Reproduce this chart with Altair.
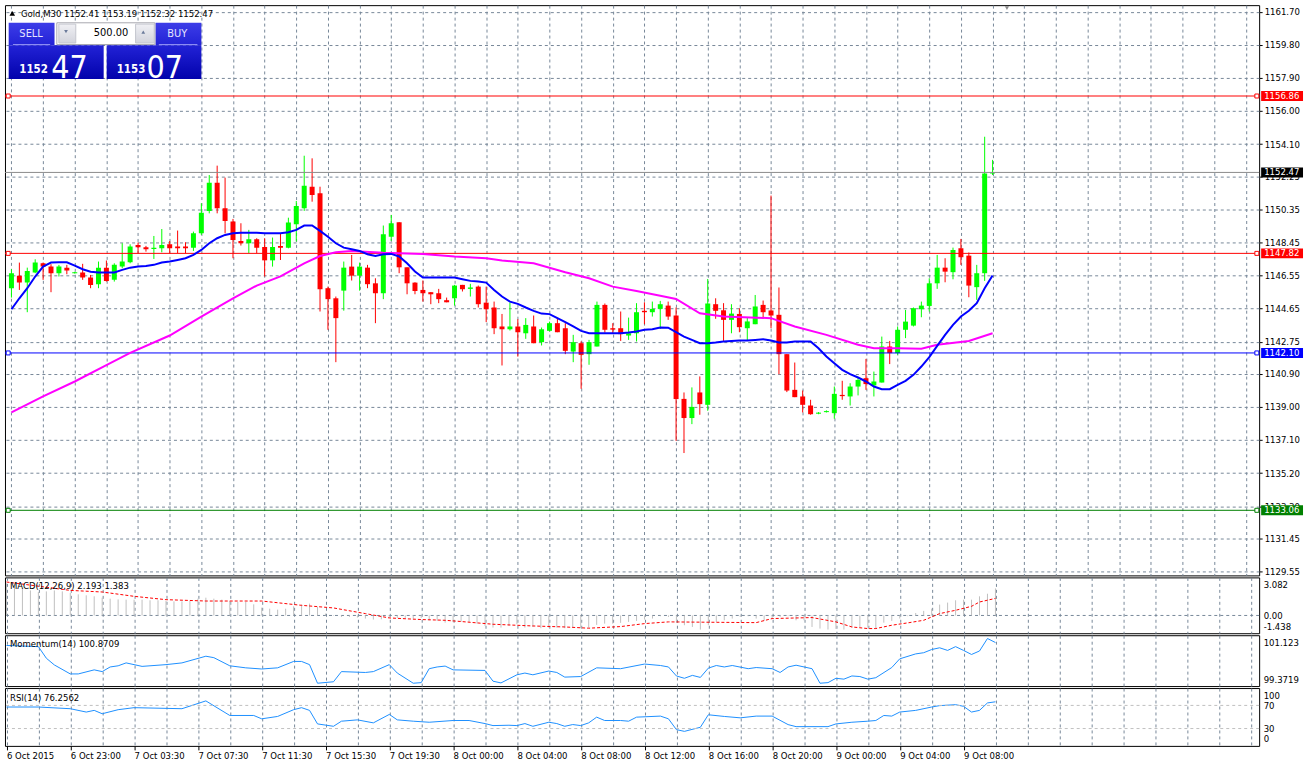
import altair as alt
import pandas as pd

# ---------------- data (Gold, M30) ----------------
opens = [1145.82, 1146.53, 1146.14, 1146.72, 1147.25, 1147.06, 1146.68, 1147.00, 1146.68, 1146.72,
         1146.43, 1146.05, 1147.00, 1146.30, 1147.06, 1147.31, 1148.30, 1148.17, 1148.07, 1148.11,
         1148.34, 1148.21, 1148.21, 1148.15, 1148.97, 1150.26, 1151.88, 1150.41, 1149.65, 1148.53,
         1148.40, 1148.63, 1148.19, 1147.42, 1148.25, 1148.15, 1149.49, 1150.41, 1151.65, 1151.27,
         1145.82, 1145.24, 1145.68, 1147.06, 1146.54, 1147.00, 1146.10, 1145.53, 1148.78, 1149.61,
         1147.02, 1146.14, 1145.72, 1145.59, 1145.53, 1145.13, 1145.24, 1146.01, 1145.78, 1145.91,
         1144.99, 1144.71, 1143.62, 1143.46, 1143.62, 1143.23, 1143.62, 1142.72, 1143.37, 1143.81,
         1143.52, 1142.18, 1142.66, 1142.03, 1142.47, 1144.86, 1143.52, 1143.52, 1143.10, 1143.23,
         1144.52, 1144.44, 1144.63, 1144.82, 1144.25, 1139.46, 1138.36, 1139.83, 1139.12, 1144.90,
         1144.55, 1144.00, 1144.34, 1143.52, 1143.75, 1144.86, 1144.54, 1144.29, 1142.03, 1139.98,
         1139.60, 1139.08, 1138.61, 1138.70, 1138.64, 1139.69, 1139.60, 1140.17, 1140.65, 1140.23,
         1140.40, 1142.47, 1142.09, 1143.43, 1143.67, 1144.61, 1144.80, 1146.10, 1147.00, 1146.74,
         1148.11, 1147.69, 1145.88, 1146.68, 1152.41]
highs = [1146.91, 1147.29, 1147.00, 1147.48, 1147.29, 1147.20, 1147.16, 1147.16, 1146.76, 1147.22,
         1146.58, 1147.35, 1147.41, 1147.25, 1148.40, 1148.34, 1148.44, 1148.25, 1148.82, 1149.22,
         1148.53, 1149.13, 1148.46, 1149.07, 1150.70, 1152.32, 1152.86, 1152.17, 1149.80, 1149.55,
         1149.17, 1148.69, 1148.69, 1148.73, 1148.97, 1149.87, 1150.83, 1153.43, 1153.28, 1151.65,
         1145.91, 1145.34, 1147.35, 1147.73, 1147.29, 1147.16, 1146.39, 1149.42, 1150.03, 1149.61,
         1147.02, 1146.16, 1146.26, 1145.59, 1145.78, 1145.28, 1146.01, 1146.01, 1146.07, 1145.97,
         1145.91, 1145.05, 1144.34, 1144.99, 1144.04, 1144.10, 1144.25, 1143.56, 1143.90, 1144.10,
         1143.81, 1143.14, 1142.76, 1142.85, 1145.05, 1144.94, 1143.81, 1144.48, 1144.13, 1144.96,
         1145.01, 1145.05, 1145.09, 1145.05, 1144.71, 1139.83, 1140.12, 1140.75, 1146.35, 1145.24,
         1144.96, 1144.90, 1144.67, 1144.13, 1145.43, 1145.11, 1151.14, 1145.86, 1142.03, 1141.55,
         1139.94, 1139.41, 1138.70, 1138.80, 1140.17, 1140.50, 1140.36, 1140.69, 1141.76, 1141.03,
         1143.04, 1142.79, 1143.62, 1144.57, 1144.71, 1145.05, 1146.39, 1147.73, 1147.54, 1148.15,
         1148.65, 1147.87, 1147.16, 1154.52, 1153.19]
lows = [1145.28, 1145.72, 1144.44, 1146.68, 1146.30, 1145.59, 1146.49, 1146.62, 1146.66, 1146.30,
        1145.82, 1145.82, 1146.20, 1146.20, 1146.97, 1147.25, 1147.83, 1147.92, 1147.50, 1147.88,
        1147.83, 1147.83, 1147.83, 1147.96, 1148.88, 1150.12, 1150.12, 1148.97, 1147.54, 1148.27,
        1147.83, 1147.83, 1146.49, 1147.06, 1147.44, 1148.11, 1148.50, 1150.26, 1150.79, 1144.48,
        1143.43, 1141.57, 1144.53, 1146.26, 1145.68, 1145.82, 1143.81, 1145.19, 1148.54, 1146.68,
        1145.47, 1145.47, 1145.05, 1144.90, 1144.96, 1145.01, 1144.82, 1145.63, 1145.34, 1144.71,
        1143.87, 1143.18, 1141.38, 1143.39, 1141.89, 1142.91, 1142.66, 1142.53, 1143.33, 1143.29,
        1142.03, 1141.57, 1140.04, 1141.42, 1142.47, 1143.27, 1143.23, 1142.79, 1142.85, 1142.76,
        1143.75, 1144.19, 1143.48, 1144.00, 1137.05, 1136.35, 1138.01, 1138.55, 1138.78, 1144.06,
        1142.79, 1143.23, 1143.29, 1142.79, 1143.75, 1144.06, 1143.52, 1140.88, 1139.85, 1139.56,
        1138.68, 1138.55, 1138.58, 1138.68, 1138.32, 1139.41, 1139.08, 1139.66, 1139.98, 1139.60,
        1140.40, 1141.46, 1141.99, 1142.95, 1143.62, 1144.15, 1144.48, 1145.78, 1146.16, 1146.33,
        1147.16, 1145.30, 1145.15, 1146.24, 1152.32]
closes = [1146.68, 1146.14, 1146.81, 1147.29, 1147.06, 1146.68, 1147.06, 1146.83, 1146.74, 1146.43,
          1146.01, 1147.00, 1146.24, 1147.16, 1147.35, 1148.21, 1148.17, 1148.06, 1148.15, 1148.30,
          1148.11, 1148.11, 1148.11, 1148.97, 1150.16, 1151.88, 1150.41, 1149.68, 1148.59, 1148.40,
          1148.63, 1148.15, 1147.42, 1148.19, 1148.15, 1149.59, 1150.54, 1151.71, 1151.17, 1145.76,
          1145.19, 1144.10, 1147.00, 1146.54, 1147.06, 1146.05, 1145.53, 1148.92, 1149.55, 1147.02,
          1146.10, 1145.66, 1145.53, 1145.47, 1145.19, 1145.01, 1145.97, 1145.76, 1145.86, 1144.90,
          1144.61, 1143.52, 1143.46, 1143.62, 1143.29, 1143.71, 1142.66, 1143.46, 1143.81, 1143.29,
          1142.22, 1142.72, 1141.99, 1142.72, 1144.86, 1143.43, 1143.44, 1143.18, 1143.23, 1144.44,
          1144.44, 1144.63, 1144.90, 1144.19, 1139.45, 1138.36, 1139.00, 1139.16, 1144.94, 1144.52,
          1144.00, 1144.36, 1143.58, 1143.91, 1144.77, 1144.44, 1144.25, 1142.03, 1139.94, 1139.56,
          1139.12, 1138.58, 1138.67, 1138.76, 1139.75, 1139.62, 1140.17, 1140.55, 1140.31, 1140.46,
          1142.47, 1142.09, 1143.43, 1143.90, 1144.67, 1144.82, 1146.10, 1147.00, 1146.77, 1148.02,
          1147.60, 1145.97, 1146.68, 1152.41, 1152.47]

ma_fast = [1144.61, 1145.24, 1145.82, 1146.49, 1147.06, 1147.29, 1147.31, 1147.31, 1147.12, 1146.91,
           1146.77, 1146.72, 1146.72, 1146.72, 1146.87, 1147.00, 1147.06, 1147.10, 1147.16, 1147.29,
           1147.35, 1147.44, 1147.54, 1147.73, 1148.02, 1148.40, 1148.69, 1148.88, 1148.97, 1149.01,
           1149.01, 1149.01, 1148.97, 1148.97, 1148.97, 1149.03, 1149.17, 1149.42, 1149.42, 1149.11,
           1148.78, 1148.40, 1148.15, 1148.06, 1147.96, 1147.77, 1147.67, 1147.77, 1147.79, 1147.64,
           1147.25, 1146.78, 1146.43, 1146.43, 1146.43, 1146.43, 1146.43, 1146.33, 1146.24, 1146.20,
           1146.14, 1145.72, 1145.34, 1145.05, 1144.92, 1144.71, 1144.52, 1144.36, 1144.33, 1144.10,
           1143.87, 1143.62, 1143.37, 1143.23, 1143.23, 1143.23, 1143.23, 1143.23, 1143.27, 1143.33,
           1143.43, 1143.46, 1143.56, 1143.55, 1143.29, 1143.04, 1142.85, 1142.66, 1142.66, 1142.70,
           1142.76, 1142.79, 1142.81, 1142.81, 1142.85, 1142.89, 1142.81, 1142.70, 1142.70, 1142.76,
           1142.76, 1142.76, 1142.37, 1141.90, 1141.51, 1141.13, 1140.88, 1140.69, 1140.46, 1140.17,
           1140.02, 1140.02, 1140.27, 1140.50, 1140.84, 1141.32, 1141.86, 1142.51, 1143.14, 1143.71,
           1144.19, 1144.52, 1144.96, 1145.82, 1146.55]

ma_slow_k = [0, 4, 8, 12, 15, 20, 24, 28, 31, 34, 37, 39, 41, 43, 47, 52, 56, 60, 62, 66,
             70, 73, 76, 79, 82, 84, 87, 90, 96, 99, 103, 107, 109, 112, 115, 117, 121, 124]
ma_slow = [1138.68, 1139.60, 1140.46, 1141.40, 1142.10, 1143.10, 1144.19, 1145.24, 1145.97, 1146.50,
           1147.25, 1147.67, 1147.88, 1147.96, 1147.86, 1147.79, 1147.64, 1147.54, 1147.41, 1147.25,
           1146.74, 1146.39, 1145.91, 1145.66, 1145.38, 1145.20, 1144.38, 1144.19, 1144.10, 1143.62,
           1143.14, 1142.57, 1142.37, 1142.37, 1142.34, 1142.57, 1142.79, 1143.23]

macd_hist = [2.60, 2.30, 2.17, 2.03, 1.90, 1.95, 2.03, 1.95, 1.82, 1.71, 1.63, 1.55, 1.44, 1.36, 1.30,
             1.28, 1.28, 1.28, 1.23, 1.23, 1.17, 1.14, 1.14, 1.17, 1.36, 1.44, 1.36, 1.28, 1.17, 1.09,
             1.09, 0.90, 0.63, 0.55, 0.47, 0.55, 0.74, 0.88, 0.96, 0.69, 0.15, -0.04, -0.12, -0.12, -0.17,
             -0.25, -0.33, -0.31, -0.20, -0.20, -0.20, -0.25, -0.20,
             -0.40, -0.44, -0.58, -0.54, -0.50, -0.52, -0.66, -0.84, -0.98, -0.98, -0.84, -0.71, -0.98,
             -0.92, -1.03, -0.98, -0.98, -1.03, -0.98, -1.03, -0.98, -0.76, -0.66, -0.66,
             -0.60, -0.52, -0.44, -0.33, -0.25, -0.06, -0.12, -0.60, -0.79, -0.93, -1.14, -0.79, -0.52,
             -0.39, -0.25, -0.12, -0.06, -0.25, -0.44, -0.25, -0.12, -0.06, -0.39, -0.39, -0.93, -1.06,
             -1.14, -1.09, -1.14, -0.98, -0.93, -0.98, -1.06, -0.58, -0.44, -0.25, -0.06, 0.20, 0.37,
             0.55, 0.88, 1.04, 1.23, 1.28, 1.28, 1.55, 1.76, 2.193]
macd_signal_k = [0, 8, 12, 16, 20, 25, 32, 37, 41, 45, 48, 52, 55, 57, 61, 66, 70, 73, 77, 80,
                 83, 94, 96, 101, 104, 106, 108, 109, 111, 113, 115, 116, 117, 119, 121, 122, 124]
macd_signal = [2.71, 2.03, 1.90, 1.55, 1.28, 1.17, 1.17, 0.82, 0.61, 0.15, -0.20, -0.33, -0.39, -0.49,
               -0.71, -0.85, -0.93, -1.03, -0.90, -0.66, -0.52, -0.58, -0.25, -0.17, -0.52, -0.93,
               -1.06, -1.06, -0.79, -0.60, -0.39, -0.12, 0.15, 0.42, 0.74, 1.09, 1.383]
macd_ticks = [3.082, 0.0, -1.438]

mom_k = [0, 4, 5, 6, 8, 9, 11, 12, 13, 14, 15, 17, 20, 22, 25, 26, 28, 30, 32, 34, 36, 37, 38, 39,
         41, 42, 45, 46, 48, 49, 51, 52, 53, 54, 55, 56, 60, 61, 62, 64, 65, 66, 68, 69, 70, 72,
         74, 77, 80, 82, 83, 84, 85, 86, 87, 88, 89, 90, 91, 93, 94, 96, 97, 98, 99, 101, 102,
         103, 104, 105, 106, 107, 108, 109, 111, 112, 114, 115, 116, 117, 118, 119, 120, 121,
         122, 123, 124]
momentum = [100.77, 100.73, 100.33, 100.10, 99.79, 99.79, 99.93, 99.87, 100.03, 100.07, 100.17,
            100.05, 100.11, 100.17, 100.40, 100.35, 100.07, 100.00, 99.96, 100.00, 100.22, 100.22,
            100.11, 99.47, 99.52, 99.87, 99.84, 99.87, 100.11, 99.82, 99.47, 99.49, 99.97, 100.03,
            100.06, 99.93, 99.91, 99.54, 99.48, 99.76, 99.82, 99.76, 99.89, 99.84, 99.68, 99.70,
            100.00, 99.97, 100.13, 100.08, 100.03, 99.72, 99.64, 99.74, 99.67, 99.99, 100.08,
            100.03, 100.08, 99.97, 100.01, 99.97, 99.84, 100.03, 100.09, 99.97, 99.47, 99.49,
            99.64, 99.61, 99.72, 99.70, 99.61, 99.66, 100.01, 100.31, 100.48, 100.52, 100.63,
            100.69, 100.60, 100.73, 100.60, 100.46, 100.58, 101.01, 100.8709]
mom_ticks = [101.123, 99.3719]

rsi_k = [0, 4, 8, 10, 11, 12, 14, 16, 22, 25, 28, 31, 32, 34, 36, 37, 38, 39, 41, 42, 44, 46, 48,
         49, 51, 53, 56, 58, 60, 61, 63, 64, 65, 66, 68, 69, 70, 71, 72, 73, 74, 75, 77, 78, 79,
         82, 83, 84, 85, 87, 88, 90, 92, 94, 96, 98, 99, 103, 104, 106, 108, 109, 110, 111, 112,
         114, 116, 117, 119, 120, 121, 122, 123, 124]
rsi = [67.2, 67.2, 64.3, 58.5, 61.4, 55.6, 62.6, 66.1, 64.3, 77.8, 52.6, 52.6, 46.8, 50.9, 62.6,
       66.1, 61.4, 38.0, 33.9, 42.7, 45.0, 39.8, 54.4, 45.0, 42.7, 40.9, 43.9, 43.9, 38.6, 35.1,
       35.7, 35.1, 38.6, 33.9, 40.9, 38.6, 33.9, 36.9, 35.1, 39.8, 49.7, 43.9, 43.9, 42.7, 49.7,
       51.5, 46.8, 28.1, 25.1, 32.2, 53.8, 50.9, 48.5, 51.5, 51.5, 36.8, 33.3, 33.3, 38.0, 40.9,
       42.7, 43.9, 52.6, 51.5, 58.5, 61.4, 67.2, 69.6, 71.3, 68.4, 58.5, 61.4, 74.3, 76.2562]
rsi_ticks = [100, 70, 30, 0]
rsi_levels = [70, 30]

level_prices = [1156.86, 1147.82, 1142.10, 1133.06]
level_colors = ["#ff0000", "#ff0000", "#0000ff", "#008000"]
current_price = 1152.47
bid, ask, lot = 1152.47, 1153.07, 500.00

price_ticks = [1161.70, 1159.80, 1157.90, 1156.00, 1154.10, 1152.25, 1150.35, 1148.45, 1146.55,
               1144.65, 1142.75, 1140.90, 1139.00, 1137.10, 1135.20, 1133.30, 1131.45, 1129.55]
time_tick_k = [0, 8, 16, 24, 32, 40, 48, 56, 64, 72, 80, 88, 96, 104, 112, 120]
time_labels = ["6 Oct 2015", "6 Oct 23:00", "7 Oct 03:30", "7 Oct 07:30", "7 Oct 11:30",
               "7 Oct 15:30", "7 Oct 19:30", "8 Oct 00:00", "8 Oct 04:00", "8 Oct 08:00",
               "8 Oct 12:00", "8 Oct 16:00", "8 Oct 20:00", "9 Oct 00:00", "9 Oct 04:00",
               "9 Oct 08:00"]
grid_k = list(range(0, 157, 4))

# ---------------- styling ----------------
FONT = "DejaVu Sans Condensed, Liberation Sans, sans-serif"
FS = 9.5
GRID = "#778899"
W = 1258
H_MAIN, H_MACD, H_MOM, H_RSI = 572, 56, 51, 58

n = len(opens)
k_idx = list(range(n))
candles = pd.DataFrame(dict(k=k_idx, open=opens, high=highs, low=lows, close=closes))
candles["dir"] = ["up" if c >= o else "down" for o, c in zip(opens, closes)]

x_scale = alt.Scale(domain=[-0.1875, 157.0625], nice=False, zero=False)
x_grid_axis = alt.Axis(values=grid_k, grid=True, gridColor=GRID, gridDash=[3, 3], labels=False,
                       ticks=False, domain=False, title=None)


def X(axis=x_grid_axis):
    return alt.X("k:Q", scale=x_scale, axis=axis)


one = pd.DataFrame({"o": [0]})


def box(x1, y1, x2, y2, **kw):
    return alt.Chart(one).mark_rect(**kw).encode(
        x=alt.value(x1), x2=alt.value(x2), y=alt.value(y1), y2=alt.value(y2))


def label(text, x, y, **kw):
    kw.setdefault("font", FONT)
    return alt.Chart(one).mark_text(text=text, **kw).encode(x=alt.value(x), y=alt.value(y))


def grad(c1, c2):
    return alt.LinearGradient(gradient="linear", x1=0, x2=0, y1=0, y2=1,
                              stops=[alt.GradientStop(color=c1, offset=0),
                                     alt.GradientStop(color=c2, offset=1)])


# ---------------- main price panel ----------------
y_main_scale = alt.Scale(domain=[1129.32, 1162.08], nice=False, zero=False)
y_main_axis = alt.Axis(orient="right", values=price_ticks, format=".2f", grid=True, gridColor=GRID,
                       gridDash=[3, 3], tickSize=3, tickColor="black", labelPadding=2,
                       domain=False, title=None)


def YM(f):
    return alt.Y(f"{f}:Q", scale=y_main_scale, axis=y_main_axis)


main_layers = []
for d, col in (("up", "#00ff00"), ("down", "#ff0000")):
    base = alt.Chart(candles).transform_filter(alt.datum.dir == d)
    main_layers.append(base.mark_rule(color=col, strokeWidth=1, clip=True).encode(
        x=X(), y=YM("low"), y2="high:Q"))
    main_layers.append(base.mark_bar(color=col, size=5, clip=True).encode(
        x=X(), y=YM("open"), y2="close:Q"))

for price, col in zip(level_prices, level_colors):
    d = pd.DataFrame({"price": [price]})
    main_layers.append(alt.Chart(d).mark_rule(color=col, strokeWidth=1).encode(y=YM("price")))
main_layers.append(alt.Chart(pd.DataFrame({"price": [current_price]})).mark_rule(
    color="#8c8c8c", strokeWidth=1).encode(y=YM("price")))

slow_df = pd.DataFrame({"k": ma_slow_k, "v": ma_slow})
fast_df = pd.DataFrame({"k": k_idx, "v": ma_fast})
main_layers.append(alt.Chart(slow_df).mark_line(color="#ff00ff", strokeWidth=2).encode(x=X(), y=YM("v")))
main_layers.append(alt.Chart(fast_df).mark_line(color="#0000ff", strokeWidth=2).encode(x=X(), y=YM("v")))

for price, col in zip(level_prices, level_colors):
    d = pd.DataFrame({"price": [price]})
    for xp in (3.2, 1255.7):
        main_layers.append(alt.Chart(d).mark_square(size=16, fill="white", stroke=col, strokeWidth=1,
                                                    opacity=1).encode(x=alt.value(xp), y=YM("price")))

tag_prices = level_prices + [current_price]
tag_colors = level_colors + ["#000000"]
for price, col in zip(tag_prices, tag_colors):
    d = pd.DataFrame({"price": [price], "txt": [f"{price:.2f}"]})
    main_layers.append(alt.Chart(d).mark_rule(color=col, strokeWidth=10, strokeCap="butt").encode(
        x=alt.value(1260), x2=alt.value(1302), y=YM("price")))
    main_layers.append(alt.Chart(d).mark_text(color="white", align="left", baseline="middle",
                                              font=FONT, fontSize=FS).encode(
        x=alt.value(1263), y=YM("price"), text="txt:N"))

# header and one-click trading panel
header = f"Gold,M30  {opens[-1]:.2f} {highs[-1]:.2f} {lows[-1]:.2f} {closes[-1]:.2f}"
main_layers.append(alt.Chart(one).mark_point(shape="triangle-up", filled=True, color="black", size=32,
                                             opacity=1).encode(x=alt.value(7.3), y=alt.value(8.3)))
main_layers.append(label(header, 16, 8.5, align="left", baseline="middle", fontSize=FS, color="black"))
main_layers.append(alt.Chart(one).mark_point(shape="triangle-down", filled=True, color="#8a8a8a",
                                             size=18, opacity=1).encode(x=alt.value(1005), y=alt.value(3)))

main_layers += [
    box(3.7, 17.7, 49.7, 40.3, fill=grad("#3d3de8", "#2222d6")),
    box(3.7, 40.3, 99, 74, fill=grad("#2222d6", "#0202ac")),
    box(151, 17.7, 197, 40.3, fill=grad("#3d3de8", "#2222d6")),
    box(102, 40.3, 197, 74, fill=grad("#2222d6", "#0202ac")),
    box(52, 17.7, 150.3, 39.5, fill="white", stroke="#a8a8b0", strokeWidth=1),
    box(54, 19, 71, 38, fill=grad("#f0f0f4", "#d2d4dc"), stroke="#c4c6ce", strokeWidth=1),
    box(131, 19, 149.7, 38, fill=grad("#f0f0f4", "#d2d4dc"), stroke="#c4c6ce", strokeWidth=1),
    box(8, 39, 45.3, 40, fill="#8c8cf4"),
    box(154.3, 39, 193, 40, fill="#8c8cf4"),
]
main_layers.append(alt.Chart(one).mark_point(shape="triangle-down", filled=True, color="#6a7a9a",
                                             size=14, opacity=1).encode(x=alt.value(61.2), y=alt.value(26.5)))
main_layers.append(alt.Chart(one).mark_point(shape="triangle-up", filled=True, color="#6a7a9a",
                                             size=14, opacity=1).encode(x=alt.value(138.7), y=alt.value(27)))
main_layers.append(label(f"{lot:.2f}", 123.7, 28, align="right", baseline="middle", fontSize=11, color="black"))
main_layers.append(label("SELL", 26.2, 28.5, align="center", baseline="middle", fontSize=11, color="#e4e4ff"))
main_layers.append(label("BUY", 172.8, 28.5, align="center", baseline="middle", fontSize=11, color="#e4e4ff"))
bid_s, ask_s = f"{bid:.2f}", f"{ask:.2f}"
main_layers.append(label(bid_s[:4], 14.3, 68, align="left", baseline="alphabetic", fontSize=11.5,
                         fontWeight="bold", color="white"))
main_layers.append(label(bid_s[5:], 46.3, 73.3, align="left", baseline="alphabetic", fontSize=32,
                         color="white"))
main_layers.append(label(ask_s[:4], 112, 68, align="left", baseline="alphabetic", fontSize=11.5,
                         fontWeight="bold", color="white"))
main_layers.append(label(ask_s[5:], 142, 73.3, align="left", baseline="alphabetic", fontSize=32,
                         color="white"))

main = alt.layer(*main_layers).properties(width=W, height=H_MAIN)


# ---------------- indicator panels ----------------
def ind_axis(values, expr):
    return alt.Axis(orient="right", values=values, labelExpr=expr, grid=False, ticks=False,
                    domain=False, labelPadding=4, labelFlush=True, labelFlushOffset=-2, title=None)


# MACD
y_macd = alt.Scale(domain=[min(macd_ticks), max(macd_ticks)], nice=False, zero=False)
macd_axis = ind_axis(macd_ticks, "datum.value === 0 ? '0.00' : '' + datum.value")


def YD(f):
    return alt.Y(f"{f}:Q", scale=y_macd, axis=macd_axis)


hist_df = pd.DataFrame({"k": k_idx, "v": macd_hist})
sig_df = pd.DataFrame({"k": macd_signal_k, "v": macd_signal})
macd = alt.layer(
    alt.Chart(pd.DataFrame({"v": [0.0]})).mark_rule(color=GRID, strokeDash=[3, 3]).encode(y=YD("v")),
    alt.Chart(hist_df).mark_rule(color="#c0c0c0", strokeWidth=1).encode(x=X(), y=YD("v"), y2=alt.datum(0)),
    alt.Chart(sig_df).mark_line(color="#ff0000", strokeWidth=1, strokeDash=[3, 2]).encode(x=X(), y=YD("v")),
    label(f"MACD(12,26,9) {macd_hist[-1]:.3f} {macd_signal[-1]:.3f}", 5, 9, align="left",
          baseline="middle", fontSize=FS, color="black"),
).properties(width=W, height=H_MACD)

# Momentum
y_mom = alt.Scale(domain=[min(mom_ticks), max(mom_ticks)], nice=False, zero=False)
mom_axis = ind_axis(mom_ticks, "'' + datum.value")
mom_df = pd.DataFrame({"k": mom_k, "v": momentum})
mom = alt.layer(
    alt.Chart(mom_df).mark_line(color="#1e90ff", strokeWidth=1).encode(
        x=X(), y=alt.Y("v:Q", scale=y_mom, axis=mom_axis)),
    label(f"Momentum(14) {momentum[-1]:.4f}", 5, 9, align="left", baseline="middle",
          fontSize=FS, color="black"),
).properties(width=W, height=H_MOM)

# RSI with the time axis
tick_list = "[" + ",".join(str(v) for v in time_tick_k) + "]"
lab_list = "[" + ",".join(f"'{t}'" for t in time_labels) + "]"
is_lab = f"indexof({tick_list}, datum.value) >= 0"
rsi_x_axis = alt.Axis(values=grid_k, grid=True, gridColor=GRID, gridDash=[3, 3],
                      labelExpr=f"{is_lab} ? {lab_list}[indexof({tick_list}, datum.value)] : ''",
                      labelAlign="left", labelBaseline="top", labelPadding=1, labelFlush=False,
                      labelOverlap=False, tickSize=4, tickColor="black",
                      tickOpacity={"condition": {"test": is_lab, "value": 1}, "value": 0},
                      domain=False, title=None)
y_rsi = alt.Scale(domain=[min(rsi_ticks), max(rsi_ticks)], nice=False, zero=False)
rsi_axis = ind_axis(rsi_ticks, "'' + datum.value")
rsi_df = pd.DataFrame({"k": rsi_k, "v": rsi})
rsi_panel = alt.layer(
    alt.Chart(rsi_df).mark_line(color="#1e90ff", strokeWidth=1).encode(
        x=X(rsi_x_axis), y=alt.Y("v:Q", scale=y_rsi, axis=rsi_axis)),
    alt.Chart(pd.DataFrame({"v": rsi_levels})).mark_rule(color="#c0c0c0", strokeDash=[3, 3]).encode(
        y=alt.Y("v:Q", scale=y_rsi, axis=rsi_axis)),
    label(f"RSI(14) {rsi[-1]:.4f}", 5, 9.5, align="left", baseline="middle", fontSize=FS, color="black"),
).properties(width=W, height=H_RSI)

chart = alt.vconcat(main, macd, mom, rsi_panel, spacing=2, bounds="flush").properties(
    padding={"left": 3, "top": 3, "right": 0, "bottom": 0}, background="white"
).configure_view(stroke="black", strokeWidth=1).configure_axis(
    labelFont=FONT, labelFontSize=FS, labelColor="black")

chart.save("out.html", embed_options={"renderer": "svg", "actions": False})
